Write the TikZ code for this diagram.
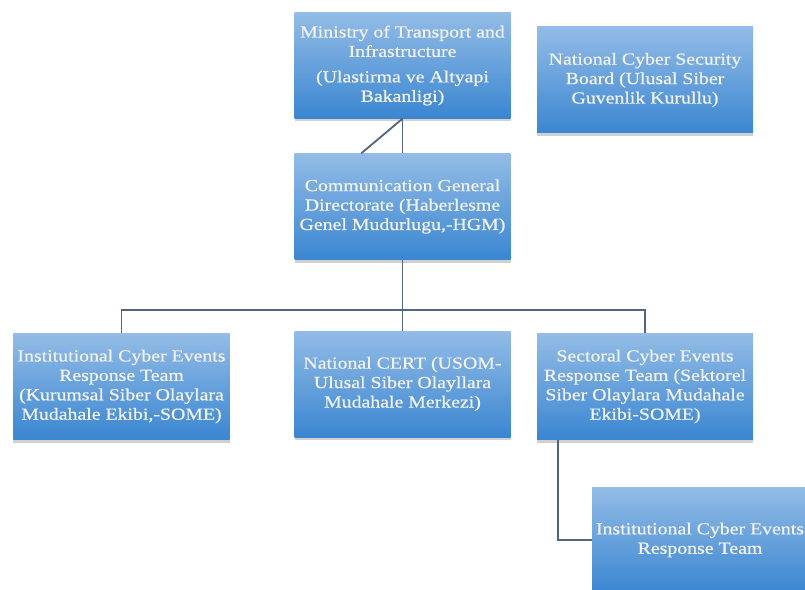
\documentclass[tikz,border=0pt]{standalone}
\usepackage{fontspec}
\setmainfont{Liberation Serif}[FakeStretch=1.17,FakeBold=0.7]
\usetikzlibrary{shadows,calc}
\definecolor{boxtop}{HTML}{93BCE6}
\definecolor{boxbot}{HTML}{3A86D1}
\definecolor{linec}{HTML}{52657D}
\definecolor{txt}{HTML}{F2F1EA}
\tikzset{
  orgbox/.style={rectangle, minimum width=216bp, minimum height=106bp, inner sep=1bp,
    top color=boxtop, bottom color=boxbot, draw=none, text=txt, align=center,
    font=\fontsize{17}{19.5}\selectfont,
    drop shadow={shadow xshift=0bp, shadow yshift=-3bp, opacity=0.3, fill=black!60}},
  link/.style={draw=linec, line width=1.8bp}
}
\begin{document}
\begin{tikzpicture}[x=1bp,y=-1bp]
\useasboundingbox (0,0) rectangle (805,590);
\clip (0,0) rectangle (805,590);
\fill[white] (0,0) rectangle (805,590);
\node[orgbox] (min) at (402.5,65.5) {Ministry of Transport and\\Infrastructure\\[6bp](Ulastirma ve Altyapi\\Bakanligi)};
\node[orgbox] (ncsb) at (645,80) {National Cyber Security\\Board (Ulusal Siber\\Guvenlik Kurullu)};
\node[orgbox] (cgd) at (402.5,206.5) {Communication General\\Directorate (Haberlesme\\Genel Mudurlugu,-HGM)};
\node[orgbox] (ice) at (121.5,386.5) {Institutional Cyber Events\\Response Team\\(Kurumsal Siber Olaylara\\Mudahale Ekibi,-SOME)};
\node[orgbox] (cert) at (402.5,384) {National CERT (USOM-\\Ulusal Siber Olayllara\\Mudahale Merkezi)};
\node[orgbox] (sce) at (645,386.5) {Sectoral Cyber Events\\Response Team (Sektorel\\Siber Olaylara Mudahale\\Ekibi-SOME)};
\node[orgbox] (ice2) at (700,540) {Institutional Cyber Events\\Response Team};
\coordinate (bus) at (402.5,310);
\draw[link] (min.south) -- (cgd.north);
\draw[link] (min.south) -- ($(cgd.north west)+(67,0)$);
\draw[link] (cgd.south) -- (cert.north);
\draw[link] (ice.north) |- (bus) -| (sce.north);
\draw[link] ([xshift=21bp]sce.south west) |- (ice2.west);
\end{tikzpicture}
\end{document}
